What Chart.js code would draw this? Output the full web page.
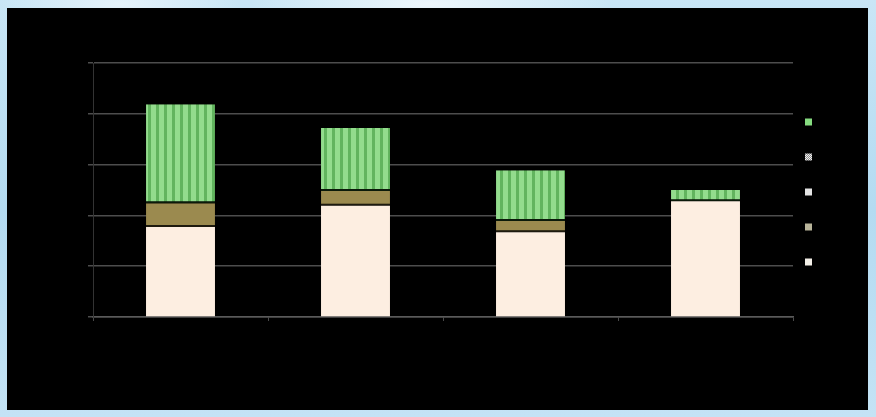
<!DOCTYPE html>
<html>
<head>
<meta charset="utf-8">
<script src="https://cdn.jsdelivr.net/npm/chart.js@4.4.1/dist/chart.umd.min.js"></script>
<style>
  html, body { margin: 0; padding: 0; }
  body {
    width: 876px;
    height: 417px;
    overflow: hidden;
    position: relative;
    background:
      radial-gradient(ellipse 180px 30px at 430px 4px, #eef7fc, rgba(238,247,252,0)),
      radial-gradient(ellipse 120px 30px at 120px 4px, #e6f3fb, rgba(230,243,251,0)),
      linear-gradient(180deg, #c9e6f6 0%, #b4dbf1 50%, #c4e3f5 100%);
  }
  #panel {
    position: absolute;
    left: 7px;
    top: 8px;
    width: 861px;
    height: 402px;
    background: #000;
  }
  canvas { display: block; }
</style>
</head>
<body>
<div id="panel"><canvas id="chart" width="861" height="402"></canvas></div>
<script>
// Categories and stacked segment values, bottom segment first
const categories = ['1', '2', '3', '4'];
const seriesNames = ['Series 1', 'Series 2', 'Series 3', 'Series 4', 'Series 5'];
const baseValues = [1.77, 2.19, 1.67, 2.28];
const midValues = [0.47, 0.29, 0.22, 0];
const lightValues = [0, 0, 0, 0];
const hatchValues = [0, 0, 0, 0];
const topValues = [1.95, 1.24, 1.00, 0.22];
const yTicks = [0, 1, 2, 3, 4, 5];

// Vertical stripe fill for the top segment
function stripePattern(light, dark) {
    const c = document.createElement('canvas');
    c.width = 8;
    c.height = 8;
    const g = c.getContext('2d');
    g.fillStyle = light;
    g.fillRect(0, 0, 8, 8);
    g.fillStyle = dark;
    g.fillRect(5, 0, 3, 8);
    return g.createPattern(c, 'repeat');
}

// Speckled fill used for the hatched series key
function speckPattern() {
    const c = document.createElement('canvas');
    c.width = 2;
    c.height = 2;
    const g = c.getContext('2d');
    g.fillStyle = '#f0f0f0';
    g.fillRect(0, 0, 2, 2);
    g.fillStyle = '#8a8a8a';
    g.fillRect(0, 0, 1, 1);
    g.fillRect(1, 1, 1, 1);
    return g.createPattern(c, 'repeat');
}

const ctx = document.getElementById('chart').getContext('2d');
const greenStripes = stripePattern('#93dc8d', '#62b45e');

// Key swatches, in dataset order
const keyColors = ['#f3efe8', '#b8b49a', '#e4e4e4', speckPattern(), '#86dc80'];

const chart = new Chart(ctx, {
    type: 'bar',
    data: {
        labels: categories,
        datasets: [
            {
                label: seriesNames[0],
                data: baseValues,
                backgroundColor: '#fdeee1',
                borderWidth: 0
            },
            {
                label: seriesNames[1],
                data: midValues,
                backgroundColor: '#9b8a4f',
                borderColor: '#1e1a0e',
                borderWidth: { top: 0, left: 0, right: 0, bottom: 2 },
                borderSkipped: false
            },
            {
                label: seriesNames[2],
                data: lightValues,
                backgroundColor: '#e4e4e4',
                borderWidth: 0
            },
            {
                label: seriesNames[3],
                data: hatchValues,
                backgroundColor: '#cccccc',
                borderWidth: 0
            },
            {
                label: seriesNames[4],
                data: topValues,
                backgroundColor: greenStripes,
                borderColor: '#0b1a0a',
                borderWidth: { top: 0, left: 0, right: 0, bottom: 2 },
                borderSkipped: false
            }
        ]
    },
    options: {
        responsive: false,
        animation: false,
        devicePixelRatio: 1,
        layout: {
            padding: { left: 81, top: 55, right: 34.5, bottom: 89 }
        },
        datasets: {
            bar: {
                categoryPercentage: 1,
                barPercentage: 0.394
            }
        },
        scales: {
            x: {
                stacked: true,
                offset: true,
                ticks: { display: false },
                grid: {
                    display: true,
                    drawOnChartArea: false,
                    drawTicks: true,
                    tickLength: 4,
                    color: '#4a4a4a',
                    lineWidth: 1
                },
                border: { display: true, color: '#5a5a5a', width: 1.5 }
            },
            y: {
                stacked: true,
                min: yTicks[0],
                max: yTicks[yTicks.length - 1],
                ticks: { display: false, stepSize: 1 },
                grid: {
                    color: '#4d4d4d',
                    lineWidth: 1.5,
                    drawTicks: true,
                    tickLength: 5
                },
                border: { display: true, color: '#333333', width: 1 }
            }
        },
        plugins: {
            tooltip: { enabled: false },
            legend: {
                display: true,
                position: 'right',
                reverse: true,
                labels: {
                    boxWidth: 7,
                    boxHeight: 7,
                    padding: 12,
                    font: { size: 23 },
                    color: '#000',
                    generateLabels: function (c) {
                        const items = Chart.defaults.plugins.legend.labels.generateLabels(c);
                        items.forEach(item => {
                            item.text = '';
                            item.fillStyle = keyColors[item.datasetIndex];
                            item.strokeStyle = 'rgba(0,0,0,0)';
                            item.lineWidth = 0;
                        });
                        return items;
                    }
                }
            }
        }
    }
});
</script>
</body>
</html>
